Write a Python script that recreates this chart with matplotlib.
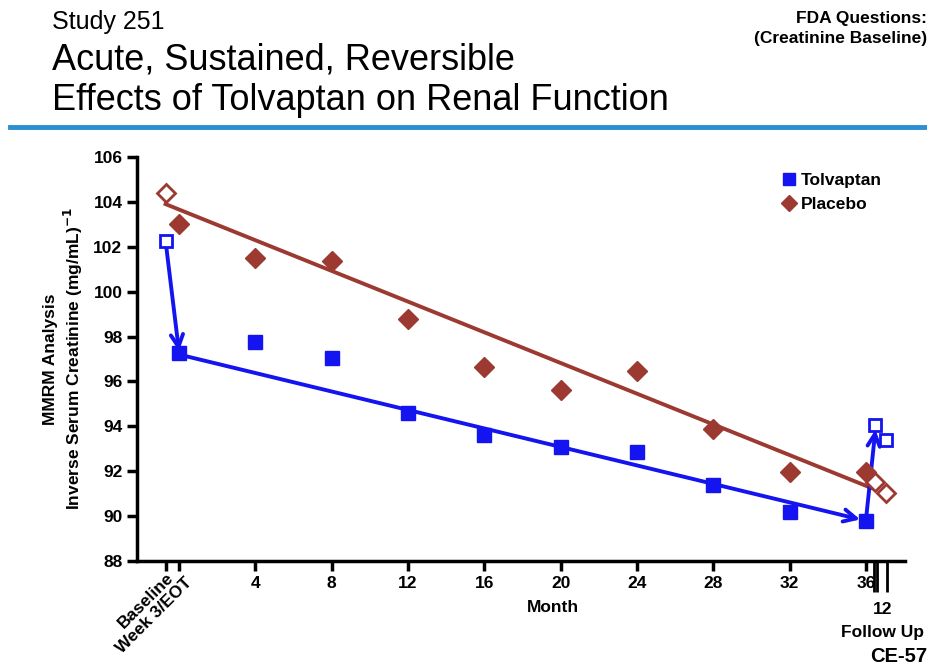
import numpy as np
import matplotlib.pyplot as plt
from matplotlib.transforms import blended_transform_factory, ScaledTranslation

plt.rcParams['font.family'] = ['Liberation Sans', 'DejaVu Sans']

# ---------------------------------------------------------------------------
# Data (x in months; baseline sits left of week 3)
# ---------------------------------------------------------------------------
x_baseline = -0.7
x_visits = [0, 4, 8, 12, 16, 20, 24, 28, 32, 36]
x_followup = [36.5, 37.05]

tolv_baseline = 102.25
tolv_visits = [97.25, 97.75, 97.05, 94.6, 93.6, 93.1, 92.85, 91.4, 90.2, 89.8]
tolv_followup = [94.05, 93.4]

plac_baseline = 104.4
plac_visits = [103.0, 101.5, 101.35, 98.8, 96.65, 95.6, 96.45, 93.9, 91.95, 91.95]
plac_followup = [91.5, 91.05]

# fitted trend lines (start / end)
plac_trend_x = [-0.7, 36.3]
plac_trend_y = [103.9, 91.25]
tolv_trend_x = [0, 35.7]
tolv_trend_y = [97.2, 89.85]

tick_pos = [-0.7, 0, 4, 8, 12, 16, 20, 24, 28, 32, 36]
tick_lab = ['', '', '4', '8', '12', '16', '20', '24', '28', '32', '36']
rot_labels = ['Baseline', 'Week 3/EOT']

BLUE = '#1414F0'
RED = '#9C3A31'
LINE_BLUE = '#2B8FD0'

fig = plt.figure(figsize=(9.28, 6.68), dpi=100)
ax = fig.add_axes([0.1476, 0.1602, 0.8276, 0.6048])

# trend lines
ax.plot(plac_trend_x, plac_trend_y, color=RED, lw=2.8, zorder=2)
ax.annotate('', xy=(tolv_trend_x[1], tolv_trend_y[1]),
            xytext=(tolv_trend_x[0], tolv_trend_y[0]),
            arrowprops=dict(arrowstyle='->', color=BLUE, lw=2.8,
                            mutation_scale=22, shrinkA=0, shrinkB=0), zorder=2)
# acute drop and recovery arrows
ax.annotate('', xy=(x_visits[0], tolv_visits[0] + 0.1),
            xytext=(x_baseline, tolv_baseline),
            arrowprops=dict(arrowstyle='->', color=BLUE, lw=2.8,
                            mutation_scale=22, shrinkA=4, shrinkB=0), zorder=2)
ax.annotate('', xy=(x_followup[0], tolv_followup[0] - 0.2),
            xytext=(x_visits[-1], tolv_visits[-1]),
            arrowprops=dict(arrowstyle='->', color=BLUE, lw=2.8,
                            mutation_scale=22, shrinkA=0, shrinkB=0), zorder=2)

# markers
ax.plot(x_visits, plac_visits, 'D', color=RED, ms=10, ls='none', zorder=3,
        label='Placebo')
ax.plot([x_baseline] + x_followup, [plac_baseline] + plac_followup, 'D',
        mfc='white', mec=RED, mew=2, ms=9, ls='none', zorder=4)
ax.plot(x_visits, tolv_visits, 's', color=BLUE, ms=9.5, ls='none', zorder=3,
        label='Tolvaptan')
ax.plot([x_baseline] + x_followup, [tolv_baseline] + tolv_followup, 's',
        mfc='white', mec=BLUE, mew=2, ms=8.5, ls='none', zorder=4)

ax.set_xlim(-2.2, 38.05)
ax.set_ylim(88, 106)
ax.set_yticks(np.arange(88, 107, 2))
ax.set_xticks(tick_pos)
ax.set_xticklabels(tick_lab)
ax.set_xticks([36.45, 36.6, 37.1], minor=True)
ax.tick_params(axis='x', which='minor', length=22, width=2, color='black')

for s in ['top', 'right']:
    ax.spines[s].set_visible(False)
for s in ['left', 'bottom']:
    ax.spines[s].set_linewidth(2.5)
ax.tick_params(axis='both', which='major', length=7, width=2.5,
               labelsize=12.5, direction='out')
for lab in ax.get_yticklabels() + ax.get_xticklabels():
    lab.set_fontweight('bold')

# rotated labels for baseline / week 3, offset so they stack
trans = blended_transform_factory(ax.transData, ax.transAxes)
offsets = [(0, -9), (5, -14)]
for xp, txt, (dx, dy) in zip(tick_pos[:2], rot_labels, offsets):
    tr = trans + ScaledTranslation(dx / 100, dy / 100, fig.dpi_scale_trans)
    ax.text(xp, 0, txt, transform=tr, rotation=45, rotation_mode='anchor',
            ha='right', va='top', fontsize=12.5, fontweight='bold')

fig.text(553 / 928, 1 - 607 / 668, 'Month', fontsize=12.5, fontweight='bold',
         ha='center', va='center')
fig.text(883 / 928, 1 - 610 / 668, '12', fontsize=12.5, fontweight='bold',
         ha='center', va='center')
fig.text(883 / 928, 1 - 632 / 668, 'Follow Up', fontsize=12.5,
         fontweight='bold', ha='center', va='center')

ax.set_ylabel('MMRM Analysis\nInverse Serum Creatinine (mg/mL)$^{\\mathbf{-1}}$',
              fontsize=12.5, fontweight='bold', labelpad=6)

handles, labels = ax.get_legend_handles_labels()
ax.legend(handles[::-1], labels[::-1], loc='upper right',
          bbox_to_anchor=(0.99, 1.0), frameon=False, handletextpad=0.1,
          handlelength=1.2, markerscale=0.85,
          prop={'weight': 'bold', 'size': 12.5}, labelspacing=0.5)

# slide header
fig.text(52 / 928, 1 - 22 / 668, 'Study 251', fontsize=18, va='center')
fig.text(52 / 928, 1 - 60 / 668, 'Acute, Sustained, Reversible',
         fontsize=26, va='center')
fig.text(52 / 928, 1 - 100 / 668, 'Effects of Tolvaptan on Renal Function',
         fontsize=26, va='center')
fig.text(0.999, 1 - 18 / 668, 'FDA Questions:', fontsize=12.5,
         fontweight='bold', ha='right', va='center')
fig.text(0.999, 1 - 38 / 668, '(Creatinine Baseline)', fontsize=12.5,
         fontweight='bold', ha='right', va='center')
fig.add_artist(plt.Line2D([10 / 928, 1.0], [1 - 127 / 668] * 2,
                          color=LINE_BLUE, lw=3.5))
fig.text(0.999, 1 - 656 / 668, 'CE-57', fontsize=14.5, fontweight='bold',
         ha='right', va='center')

fig.savefig('out.png', dpi=100)
